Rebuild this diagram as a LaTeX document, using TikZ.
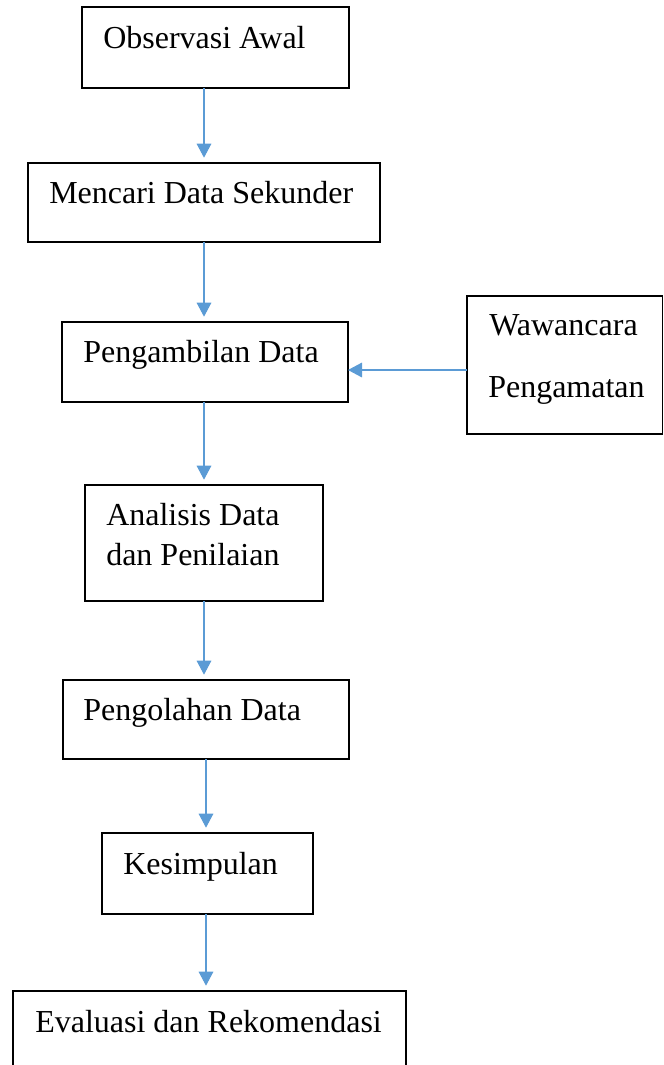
\documentclass[tikz,border=0pt]{standalone}
\usepackage{fontspec}
\setmainfont{Liberation Serif}
\usetikzlibrary{arrows.meta}
\definecolor{garis}{HTML}{5B9BD5}

\begin{document}
\begin{tikzpicture}[x=0.75pt, y=-0.75pt,
  kotak/.style={draw, line width=0.9pt, inner sep=0pt, outer sep=0pt},
  teks/.style={anchor=base west, inner sep=0pt, font=\fontsize{24}{28}\selectfont},
  alur/.style={draw=garis, line width=0.8pt, -{Triangle[length=10.5pt, width=11pt]}, shorten >=4pt}]
\useasboundingbox (0,0) rectangle (664,1065);
% kotak
\node[kotak, minimum width=267*0.75pt, minimum height=81*0.75pt] (obs) at (215.5, 47.5) {};
\node[kotak, minimum width=352*0.75pt, minimum height=79*0.75pt] (sek) at (204, 202.5) {};
\node[kotak, minimum width=286*0.75pt, minimum height=80*0.75pt] (pd) at (205, 362) {};
\node[kotak, minimum width=195.5*0.75pt, minimum height=138*0.75pt] (wc) at (564.75, 365) {};
\node[kotak, minimum width=238*0.75pt, minimum height=116*0.75pt] (ana) at (204, 543) {};
\node[kotak, minimum width=286*0.75pt, minimum height=79*0.75pt] (olah) at (206, 719.5) {};
\node[kotak, minimum width=211*0.75pt, minimum height=81*0.75pt] (kes) at (207.5, 873.5) {};
\node[kotak, minimum width=393*0.75pt, minimum height=109*0.75pt] (eval) at (209.5, 1045.5) {};
% teks
\node[teks] (tobs) at (103, 48) {Observasi Awal};
\node[teks] (tsek) at (49, 203) {Mencari Data Sekunder};
\node[teks] (tpd) at (83, 362) {Pengambilan Data};
\node[teks] (twc) at (489, 335) {Wawancara};
\node[teks] (tpg) at (488, 397) {Pengamatan};
\node[teks] (tana) at (106, 525) {Analisis Data};
\node[teks] (tdan) at (106, 565) {dan Penilaian};
\node[teks] (tolah) at (83, 720) {Pengolahan Data};
\node[teks] (tkes) at (123, 874) {Kesimpulan};
\node[teks] (teval) at (35, 1032) {Evaluasi dan Rekomendasi};
% panah
\coordinate (wcin) at ([yshift=-3.75pt]wc.west);
\draw[alur] (obs.south -| sek.north) -- (sek.north);
\draw[alur] (sek.south) -- (sek.south |- pd.north);
\draw[alur] (pd.south -| ana.north) -- (ana.north);
\draw[alur] (ana.south) -- (ana.south |- olah.north);
\draw[alur] (olah.south) -- (olah.south |- kes.north);
\draw[alur] (kes.south -| olah.south) -- (olah.south |- eval.north);
\draw[alur, shorten >=0pt] (wcin) -- (wcin -| pd.east);
\end{tikzpicture}
\end{document}
